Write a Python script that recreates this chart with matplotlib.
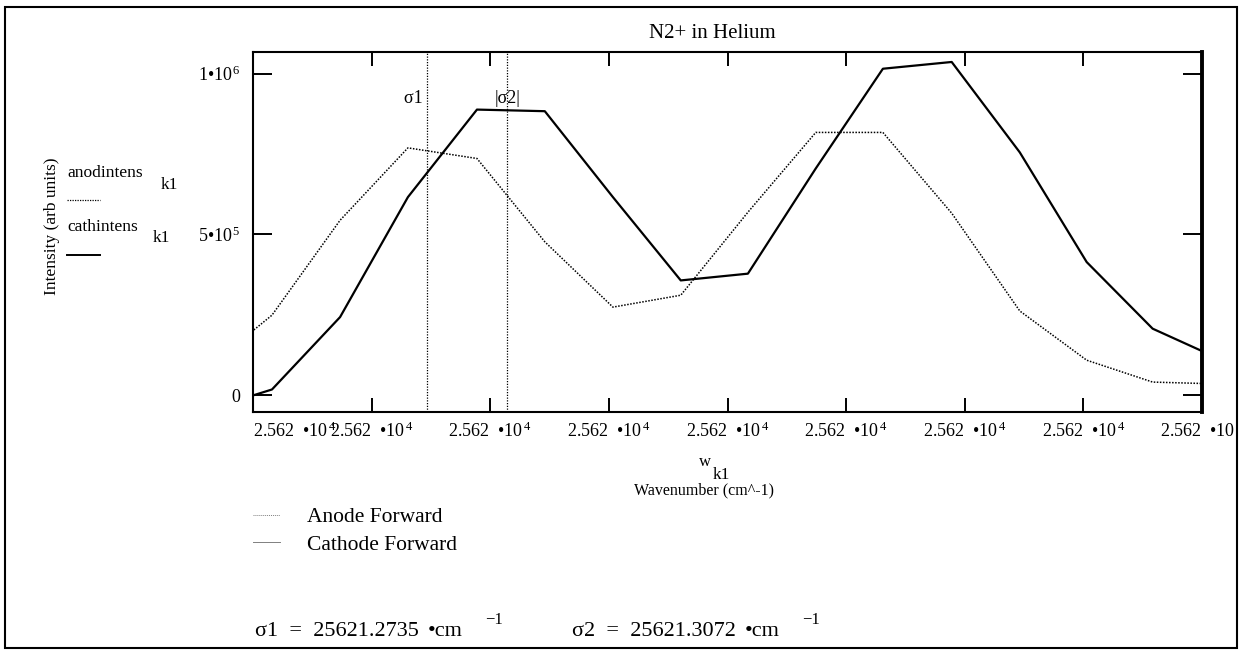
import matplotlib
matplotlib.use("Agg")
import matplotlib.pyplot as plt
from matplotlib.lines import Line2D
from matplotlib.patches import Rectangle
from matplotlib.transforms import Bbox, TransformedBbox, blended_transform_factory

plt.rcParams['font.family'] = ['Liberation Serif', 'DejaVu Serif']
plt.rcParams['mathtext.fontset'] = 'custom'
plt.rcParams['mathtext.rm'] = 'Liberation Serif'
plt.rcParams['mathtext.it'] = 'Liberation Serif:italic'

# spectrum samples (cm^-1) and intensities for both discharge directions
wavenumber = [25621.1794, 25621.2080, 25621.2367, 25621.2653, 25621.2944, 25621.3230,
              25621.3517, 25621.3803, 25621.4086, 25621.4372, 25621.4655, 25621.4945,
              25621.5232, 25621.5514, 25621.5792, 25621.6079]
anodintens = [77000, 249000, 544000, 769000, 736000, 477000, 274000, 311000,
              569000, 817000, 817000, 566000, 262000, 109000, 41000, 35000]
cathintens = [-48000, 18000, 243000, 616000, 888000, 883000, 616000, 357000,
              378000, 705000, 1015000, 1036000, 755000, 414000, 207000, 111000]

sigma1 = 25621.2735
sigma2 = 25621.3072

x_ticks = [25621.20, 25621.25, 25621.30, 25621.35, 25621.40, 25621.45, 25621.50, 25621.55, 25621.60]
x_ticklabel = r"2.562  •10$^{\,4}$"
y_ticks = [0, 5e5, 1e6]
y_ticklabels = ["0", r"5•10$^{\,5}$", r"1•10$^{\,6}$"]

W, H = 1241, 650


def fx(x):
    return x / W


def fy(y):
    return 1 - y / H


fig = plt.figure(figsize=(W / 100, H / 100), dpi=100)
ax = fig.add_axes([fx(253), fy(412), fx(1202) - fx(253), fy(52) - fy(412)])

ax.plot(wavenumber, anodintens, color="black", lw=1.1, ls=(0, (1, 1)))
ax.plot(wavenumber, cathintens, color="black", lw=1.6)
for s in (sigma1, sigma2):
    ax.axvline(s, color="black", lw=0.9, ls=(0, (1, 1.2)))

ax.set_xlim(x_ticks[0], x_ticks[-1])
ax.set_ylim(-5.2e4, 1.067e6)

ax.set_xticks(x_ticks)
ax.set_xticklabels([x_ticklabel] * len(x_ticks))
ax.set_yticks(y_ticks)
ax.set_yticklabels(y_ticklabels)
ax.tick_params(axis="x", direction="in", top=True, length=10, width=1.4, pad=7, labelsize=13)
ax.tick_params(axis="y", direction="in", right=True, length=14, width=1.4, pad=9, labelsize=13)
for side, lw in (("left", 1.5), ("bottom", 1.5), ("top", 1.5), ("right", 2.8)):
    ax.spines[side].set_linewidth(lw)

# outer worksheet frame
frame = Rectangle((fx(5), fy(648)), fx(1237) - fx(5), fy(7) - fy(648), transform=fig.transFigure,
                  fill=False, lw=1.5, color="black")
fig.add_artist(frame)

labels = ax.get_xticklabels()
labels[0].set_horizontalalignment("left")
frame_box = TransformedBbox(Bbox([[fx(5), fy(648)], [fx(1237), fy(7)]]), fig.transFigure)
labels[-1].set_clip_on(True)
labels[-1].set_clip_box(frame_box)

# marker labels
trans = blended_transform_factory(ax.transData, ax.transAxes)
ax.text(sigma1, 0.87, "σ1 ", transform=trans, ha="right", va="center", fontsize=13)
ax.text(sigma2, 0.87, "|σ2|", transform=trans, ha="center", va="center", fontsize=13)

fig.text(fx(712), fy(33), "N2+ in Helium", ha="center", va="center", fontsize=15)
fig.text(fx(52), fy(226), "Intensity (arb units)", rotation=90, ha="center", va="center", fontsize=12.5)

# trace names on the left
fig.text(fx(67), fy(173), "anodintens", ha="left", va="center", fontsize=12.5)
fig.text(fx(161), fy(185), "k1", ha="left", va="center", fontsize=12.5)
fig.add_artist(Line2D([fx(67), fx(100)], [fy(200), fy(200)], transform=fig.transFigure,
                      color="black", lw=0.9, ls=(0, (1, 1))))
fig.text(fx(67), fy(227), "cathintens", ha="left", va="center", fontsize=12.5)
fig.text(fx(153), fy(238), "k1", ha="left", va="center", fontsize=12.5)
fig.add_artist(Line2D([fx(67), fx(100)], [fy(255), fy(255)], transform=fig.transFigure,
                      color="black", lw=1.4))

# x axis name
fig.text(fx(705), fy(462), "w", ha="center", va="center", fontsize=12)
fig.text(fx(713), fy(475), "k1", ha="left", va="center", fontsize=12.5)
fig.text(fx(704), fy(490), "Wavenumber (cm^-1)", ha="center", va="center", fontsize=11.5)

# legend
fig.add_artist(Line2D([fx(253), fx(280)], [fy(515), fy(515)], transform=fig.transFigure,
                      color="gray", lw=0.7, ls=(0, (1, 1))))
fig.text(fx(307), fy(518), "Anode Forward", ha="left", va="center", fontsize=15.5)
fig.add_artist(Line2D([fx(253), fx(280)], [fy(542), fy(542)], transform=fig.transFigure,
                      color="gray", lw=0.7))
fig.text(fx(307), fy(545), "Cathode Forward", ha="left", va="center", fontsize=15.5)

# marker values
for x0, name, val in ((255, "σ1", sigma1), (572, "σ2", sigma2)):
    fig.text(fx(x0), fy(632), f"{name}  =  {val:.4f}", ha="left", va="center", fontsize=16)
    fig.text(fx(x0 + 173), fy(632), "•cm", ha="left", va="center", fontsize=16)
    fig.text(fx(x0 + 230), fy(620), "−1", ha="left", va="center", fontsize=12)

fig.savefig("out.png", dpi=100)
